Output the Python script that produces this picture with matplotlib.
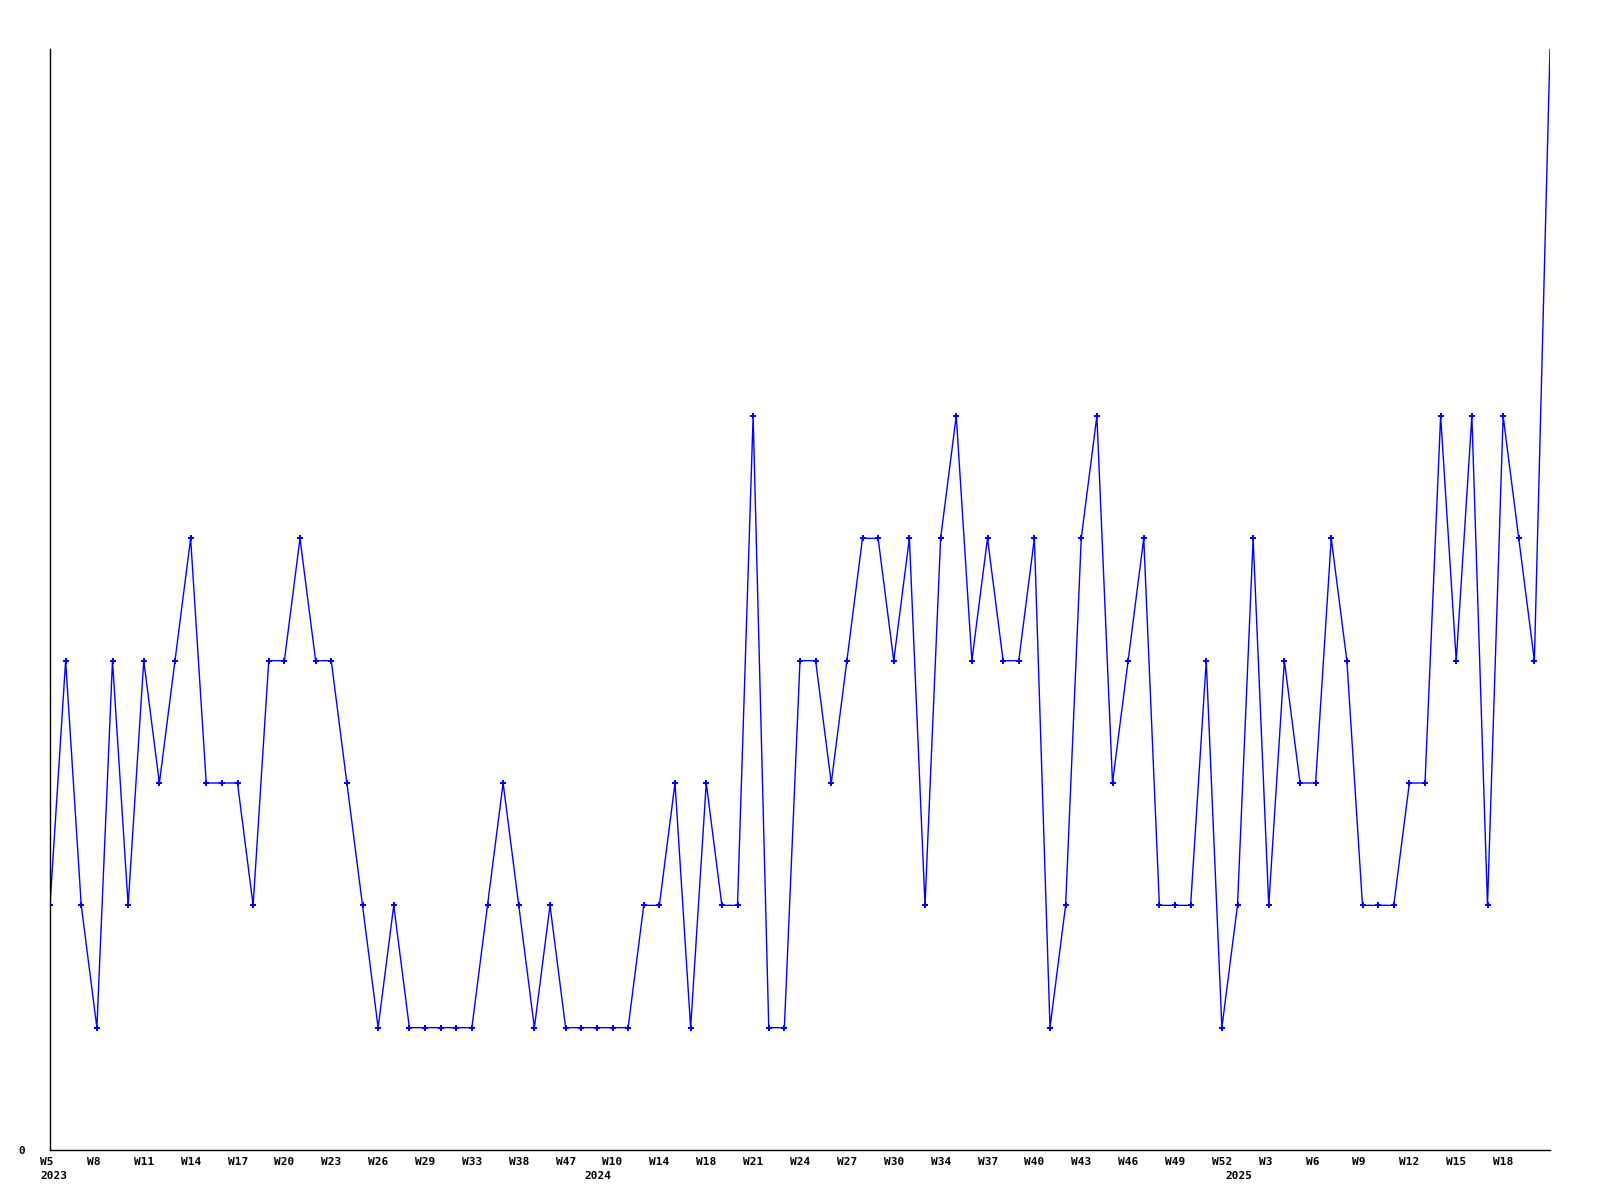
import matplotlib
matplotlib.use('Agg')
import matplotlib.pyplot as plt
import matplotlib.transforms as mtransforms
import numpy as np

# weekly counts, one per week shown (97 weeks)
counts = [2, 4, 2, 1, 4, 2, 4, 3, 4, 5,
          3, 3, 3, 2, 4, 4, 5, 4, 4, 3,
          2, 1, 2, 1, 1, 1, 1, 1, 2, 3,
          2, 1, 2, 1, 1, 1, 1, 1, 2, 2,
          3, 1, 3, 2, 2, 6, 1, 1, 4, 4,
          3, 4, 5, 5, 4, 5, 2, 5, 6, 4,
          5, 4, 4, 5, 1, 2, 5, 6, 3, 4,
          5, 2, 2, 2, 4, 1, 2, 5, 2, 4,
          3, 3, 5, 4, 2, 2, 2, 3, 3, 6,
          4, 6, 2, 6, 5, 4, 9]

# every third week gets a label
week_labels = ['W5', 'W8', 'W11', 'W14', 'W17', 'W20', 'W23', 'W26', 'W29', 'W33',
               'W38', 'W47', 'W10', 'W14', 'W18', 'W21', 'W24', 'W27', 'W30', 'W34',
               'W37', 'W40', 'W43', 'W46', 'W49', 'W52', 'W3', 'W6', 'W9', 'W12',
               'W15', 'W18']
years = ['2023', '2024', '2025']
year_pos = [0, 35, 76]

x = np.arange(len(counts))

fig = plt.figure(figsize=(16, 12), dpi=100)
ax = fig.add_axes([50 / 1600, 50 / 1200, 1500 / 1600, 1101 / 1200])

# the last point sits on the top edge, its marker is cut off in the original
ax.plot(x, counts, color='#0000ff', lw=1, marker='P', markersize=4,
        markeredgewidth=0, markevery=list(range(len(counts) - 1)))

ax.set_xlim(0, len(counts) - 1)
ax.set_ylim(0, 9)

ax.spines['top'].set_visible(False)
ax.spines['right'].set_visible(False)
for s in ['left', 'bottom']:
    ax.spines[s].set_color('black')
    ax.spines[s].set_linewidth(1)

font = dict(family='DejaVu Sans Mono', weight='bold', size=8)

ax.set_yticks([0])
ax.set_yticklabels(['0'], **font)
ax.tick_params(axis='y', length=0, pad=18)

ax.set_xticks(x[:len(week_labels) * 3:3])
ax.set_xticklabels(week_labels, ha='left', **font)
ax.tick_params(axis='x', length=0, pad=5)
shift = mtransforms.ScaledTranslation(-10 / 100, 0, fig.dpi_scale_trans)
for lab in ax.get_xticklabels():
    lab.set_transform(lab.get_transform() + shift)

trans = mtransforms.blended_transform_factory(ax.transData, ax.transAxes)
for yr, p in zip(years, year_pos):
    if p == 0:
        off = mtransforms.ScaledTranslation(-10 / 100, -21 / 100, fig.dpi_scale_trans)
        ax.text(p, 0, yr, transform=trans + off, ha='left', va='top', **font)
    else:
        off = mtransforms.ScaledTranslation(1 / 100, -21 / 100, fig.dpi_scale_trans)
        ax.text(p, 0, yr, transform=trans + off, ha='center', va='top', **font)

fig.savefig('out.png', dpi=100)
